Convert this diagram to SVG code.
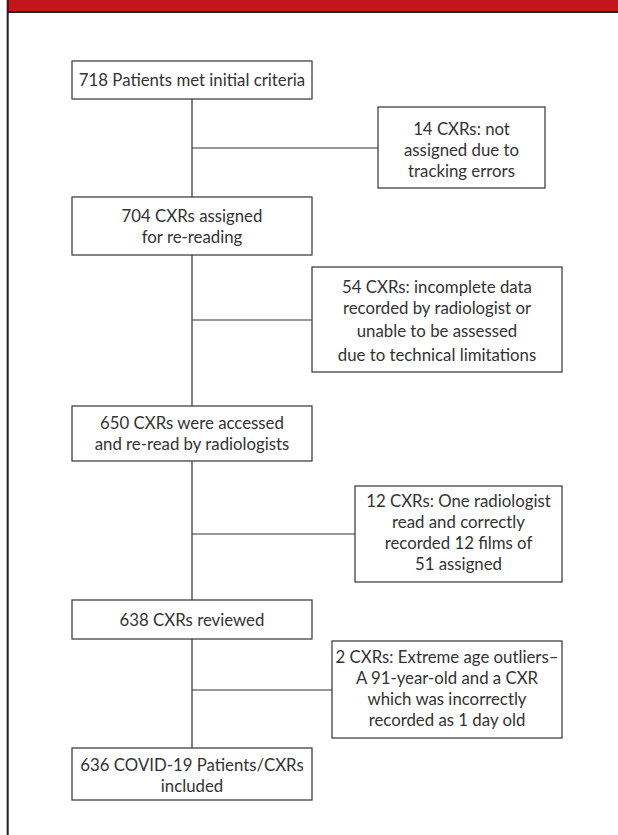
<svg xmlns="http://www.w3.org/2000/svg" width="618" height="835" viewBox="0 0 618 835">
<style>
.box{fill:#fff;stroke:#333;stroke-width:1.2}
.ln{stroke:#333;stroke-width:1.2;fill:none}
text{font-family:Lato,"Open Sans",sans-serif;font-size:16.8px;font-weight:400;fill:#333;text-anchor:middle}
</style>
<rect x="0" y="0" width="618" height="835" fill="#fff"/>
<g id="frame">
<rect x="8" y="0" width="610" height="11.5" fill="#c4141c"/>
<line x1="8" y1="12" x2="618" y2="12" stroke="#231f20" stroke-width="1.8"/>
<line x1="7.7" y1="0" x2="7.7" y2="835" stroke="#231f20" stroke-width="2"/>
</g>
<g id="connectors">
<path class="ln" d="M192 99V197M192 255V406M192 461V600M192 639V748M192 148H378M192 320H312M192 534H355M192 690H332"/>
</g>
<g id="n1"><rect class="box" x="72" y="61" width="240" height="38"/><text x="192" y="86">718 Patients met initial criteria</text></g>
<g id="n2"><rect class="box" x="72" y="197" width="240" height="58"/><text x="192" y="222">704 CXRs assigned</text><text x="192" y="243">for re-reading</text></g>
<g id="n3"><rect class="box" x="72" y="406" width="240" height="55"/><text x="192" y="429">650 CXRs were accessed</text><text x="192" y="450">and re-read by radiologists</text></g>
<g id="n4"><rect class="box" x="72" y="600" width="240" height="39"/><text x="192" y="626">638 CXRs reviewed</text></g>
<g id="n5"><rect class="box" x="72" y="748" width="240" height="52"/><text x="192" y="771">636 COVID-19 Patients/CXRs</text><text x="192" y="792">included</text></g>
<g id="s1"><rect class="box" x="378" y="107" width="167" height="81"/><text x="461.5" y="135">14 CXRs: not</text><text x="461.5" y="156">assigned due to</text><text x="461.5" y="177">tracking errors</text></g>
<g id="s2"><rect class="box" x="312" y="267" width="250" height="105"/><text x="437" y="293">54 CXRs: incomplete data</text><text x="437" y="314">recorded by radiologist or</text><text x="437" y="337">unable to be assessed</text><text x="437" y="361">due to technical limitations</text></g>
<g id="s3"><rect class="box" x="355" y="486" width="207" height="96"/><text x="458.5" y="507">12 CXRs: One radiologist</text><text x="458.5" y="528">read and correctly</text><text x="458.5" y="549">recorded 12 films of</text><text x="458.5" y="570">51 assigned</text></g>
<g id="s4"><rect class="box" x="332" y="641" width="230" height="97"/><text x="447" y="663">2 CXRs: Extreme age outliers–</text><text x="447" y="684">A 91-year-old and a CXR</text><text x="447" y="705">which was incorrectly</text><text x="447" y="726">recorded as 1 day old</text></g>
</svg>
